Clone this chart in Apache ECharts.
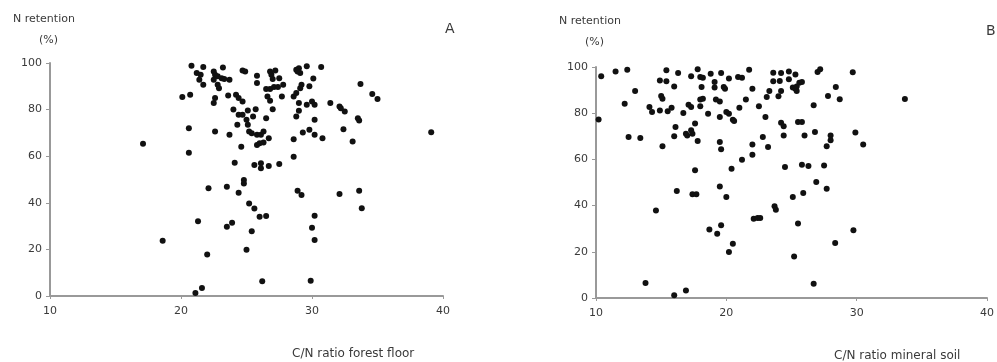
<!DOCTYPE html>
<html>
<head>
<meta charset="utf-8">
<title>N retention vs C/N ratio</title>
<script src="https://cdn.jsdelivr.net/npm/echarts@6/dist/echarts.min.js"></script>
<style>
  body { margin: 0; background: #fff; }
  #chart { width: 997px; height: 362px; }
</style>
</head>
<body>
<div id="chart"></div>
<script>
// panel A: C/N ratio of forest floor vs N retention (%)
var forestFloor = [
  [20.8, 98.8], [21.7, 98.3], [21.2, 95.7], [21.5, 95.0], [21.4, 92.8], [21.7, 90.7],
  [22.5, 96.4], [23.2, 98.1], [22.6, 95.0], [22.8, 94.3], [23.1, 93.5], [23.3, 93.1],
  [23.7, 92.8], [22.5, 92.8], [22.8, 90.7], [22.9, 89.2], [22.6, 85.0], [22.5, 82.8],
  [23.6, 86.0], [24.2, 86.4], [24.4, 85.0], [24.7, 83.5], [24.7, 96.8], [24.9, 96.4],
  [20.1, 85.4], [20.7, 86.4], [20.6, 72.0], [20.6, 61.5], [17.1, 65.3], [22.6, 70.6],
  [23.7, 69.2], [24.0, 80.0], [24.4, 77.8], [24.7, 77.8], [24.3, 73.5], [25.0, 75.6],
  [25.1, 73.5], [25.2, 70.6], [25.1, 79.6], [25.7, 80.2], [25.5, 77.0], [25.4, 69.9],
  [25.8, 69.2], [24.6, 64.1], [25.8, 64.8], [26.0, 65.6], [26.3, 65.9], [26.1, 69.2],
  [26.3, 70.6], [25.8, 94.5], [25.8, 91.4], [26.6, 85.6], [26.8, 83.8], [26.5, 88.8],
  [26.8, 88.8], [27.1, 89.7], [27.4, 89.7], [26.9, 95.0], [27.2, 96.8], [27.0, 93.1],
  [26.8, 96.4], [27.5, 93.5], [27.8, 90.7], [27.7, 85.6], [27.0, 80.2], [26.5, 76.3],
  [26.7, 67.7], [25.6, 56.2], [26.1, 57.0], [26.1, 54.8], [26.7, 55.8], [27.5, 56.7],
  [24.1, 57.2], [23.5, 46.9], [24.4, 44.3], [24.8, 49.8], [24.8, 48.3], [25.2, 39.7],
  [25.6, 37.6], [26.0, 34.0], [26.5, 34.3], [22.1, 46.2], [21.3, 32.1], [23.5, 29.7],
  [23.9, 31.4], [25.4, 27.8], [25.0, 19.9], [22.0, 17.8], [18.6, 23.7], [21.6, 3.4],
  [21.1, 1.3], [26.2, 6.3], [29.9, 6.5], [30.0, 29.3], [30.2, 34.4], [30.2, 24.0],
  [28.9, 45.2], [29.2, 43.3], [32.1, 43.8], [33.6, 45.2], [33.8, 37.7], [28.6, 59.8],
  [28.6, 67.3], [29.3, 70.2], [29.8, 71.3], [30.2, 69.2], [30.8, 67.7], [30.2, 75.6],
  [28.8, 77.0], [29.0, 79.5], [29.0, 82.8], [29.6, 82.1], [30.0, 83.5], [30.2, 82.1],
  [31.4, 82.8], [32.1, 81.3], [32.2, 80.6], [32.5, 79.2], [32.4, 71.6], [33.1, 66.3],
  [33.5, 76.3], [33.6, 75.3], [33.7, 91.0], [34.6, 86.7], [35.0, 84.5], [39.1, 70.3],
  [28.6, 85.6], [28.8, 87.1], [29.1, 89.2], [29.2, 90.7], [29.8, 90.0], [30.1, 93.3],
  [28.8, 97.1], [29.0, 97.8], [29.1, 95.7], [28.9, 96.4], [29.6, 98.6], [30.7, 98.3]
];

// panel B: C/N ratio of mineral soil vs N retention (%)
var mineralSoil = [
  [10.4, 96.0], [10.2, 77.3], [11.5, 98.1], [12.4, 98.8], [12.2, 84.1], [12.5, 69.7],
  [13.0, 89.6], [13.4, 69.3], [14.1, 82.7], [14.3, 80.5], [14.9, 94.2], [15.4, 93.8],
  [15.4, 98.6], [15.0, 87.4], [15.1, 86.3], [14.9, 81.2], [15.5, 80.8], [15.8, 82.4],
  [15.1, 65.7], [16.0, 91.6], [16.3, 97.4], [16.1, 74.0], [16.0, 70.0], [14.6, 37.9],
  [13.8, 6.5], [16.0, 1.2], [16.9, 3.3], [16.2, 46.3], [17.3, 96.0], [17.8, 99.0],
  [16.7, 80.1], [17.1, 83.7], [17.3, 82.7], [16.9, 71.1], [17.3, 72.6], [17.4, 71.1],
  [17.0, 70.4], [17.6, 75.5], [17.8, 68.0], [17.6, 55.3], [17.4, 44.9], [17.7, 44.9],
  [18.0, 95.7], [18.2, 95.4], [18.8, 97.1], [18.1, 91.3], [18.0, 85.9], [18.2, 86.3],
  [18.0, 83.0], [18.6, 79.8], [19.1, 93.5], [19.1, 91.1], [19.6, 97.4], [19.2, 85.9],
  [19.5, 85.1], [19.5, 78.4], [19.8, 91.3], [19.9, 90.6], [20.2, 95.0], [20.0, 80.5],
  [20.2, 79.8], [20.5, 77.2], [20.6, 76.6], [19.5, 67.5], [19.6, 64.4], [18.7, 29.6],
  [19.3, 27.8], [19.6, 31.5], [19.5, 48.3], [20.0, 43.7], [20.2, 19.9], [20.5, 23.5],
  [20.4, 56.0], [20.9, 95.7], [21.2, 95.4], [21.0, 82.4], [21.5, 85.9], [21.2, 59.9],
  [21.75, 98.8], [22.0, 90.6], [22.0, 66.5], [22.0, 62.0], [22.5, 83.0], [22.1, 34.3],
  [22.4, 34.6], [22.6, 34.6], [23.0, 78.4], [22.8, 69.7], [23.2, 65.4], [23.1, 87.0],
  [23.3, 89.6], [23.6, 97.5], [24.2, 97.4], [24.8, 98.1], [23.6, 93.8], [24.1, 93.9],
  [24.0, 87.3], [24.2, 89.6], [24.2, 75.9], [24.4, 74.3], [24.4, 70.4], [24.5, 56.7],
  [23.7, 39.7], [23.8, 38.2], [24.8, 94.7], [25.3, 96.8], [25.1, 91.1], [25.3, 90.6],
  [25.4, 91.6], [25.6, 93.2], [25.8, 93.5], [25.4, 89.6], [25.5, 76.2], [25.8, 76.2],
  [26.0, 70.4], [25.1, 43.7], [25.9, 45.5], [25.8, 57.7], [26.3, 57.1], [25.5, 32.2],
  [25.2, 18.0], [26.7, 83.4], [26.8, 71.9], [27.0, 97.8], [27.2, 99.0], [27.8, 87.4],
  [28.0, 70.4], [28.0, 68.3], [27.7, 65.7], [27.5, 57.4], [26.9, 50.2], [27.7, 47.3],
  [28.4, 91.3], [28.7, 86.0], [28.35, 23.8], [26.7, 6.2], [29.7, 97.7], [29.9, 71.6],
  [29.75, 29.3], [30.5, 66.5], [33.7, 86.1]
];

var xTicks = [10, 20, 30, 40];
var yTicks = [0, 20, 40, 60, 80, 100];
var panelLetters = ['A', 'B'];
var xNames = ['C/N ratio forest floor', 'C/N ratio mineral soil'];
var yName = ['N retention', '(%)'];

var chart = echarts.init(document.getElementById('chart'));

var font = '"DejaVu Sans", sans-serif';
var axisGray = '#999';
var textGray = '#3a3a3a';

function xAxisFor(i) {
  return {
    type: 'value', gridIndex: i,
    min: xTicks[0], max: xTicks[xTicks.length - 1], interval: 10,
    axisLine: { show: true, lineStyle: { color: axisGray, width: 2 } },
    axisTick: { show: true, length: 3, lineStyle: { color: axisGray } },
    axisLabel: { color: textGray, fontSize: 11, fontFamily: font, margin: 10 },
    splitLine: { show: false }
  };
}
function yAxisFor(i) {
  return {
    type: 'value', gridIndex: i,
    min: yTicks[0], max: yTicks[yTicks.length - 1], interval: 20,
    axisLine: { show: true, lineStyle: { color: axisGray, width: 2 } },
    axisTick: { show: true, length: 4, lineStyle: { color: axisGray } },
    axisLabel: { color: textGray, fontSize: 11, fontFamily: font, margin: 8 },
    splitLine: { show: false }
  };
}
function seriesFor(i, data) {
  return {
    type: 'scatter', xAxisIndex: i, yAxisIndex: i,
    data: data, symbolSize: 6,
    itemStyle: { color: '#111', opacity: 1 },
    silent: true, animation: false
  };
}
function txt(str, left, top, size) {
  return {
    text: str, left: left, top: top, padding: 0,
    textStyle: { fontSize: size, fontWeight: 'normal', color: textGray, fontFamily: font }
  };
}

chart.setOption({
  backgroundColor: '#fff',
  animation: false,
  title: [
    txt(yName[0], 13, 14, 11),
    txt(yName[1], 39, 35, 11),
    txt(panelLetters[0], 445, 22, 14),
    txt(xNames[0], 292, 348, 12),
    txt(yName[0], 559, 16, 11),
    txt(yName[1], 585, 37, 11),
    txt(panelLetters[1], 986, 24, 14),
    txt(xNames[1], 834, 350, 12)
  ],
  grid: [
    { left: 50, width: 393, top: 63, height: 233 },
    { left: 596, width: 396, top: 67, height: 231 }
  ],
  xAxis: [xAxisFor(0), xAxisFor(1)],
  yAxis: [yAxisFor(0), yAxisFor(1)],
  series: [seriesFor(0, forestFloor), seriesFor(1, mineralSoil)]
});
</script>
</body>
</html>
